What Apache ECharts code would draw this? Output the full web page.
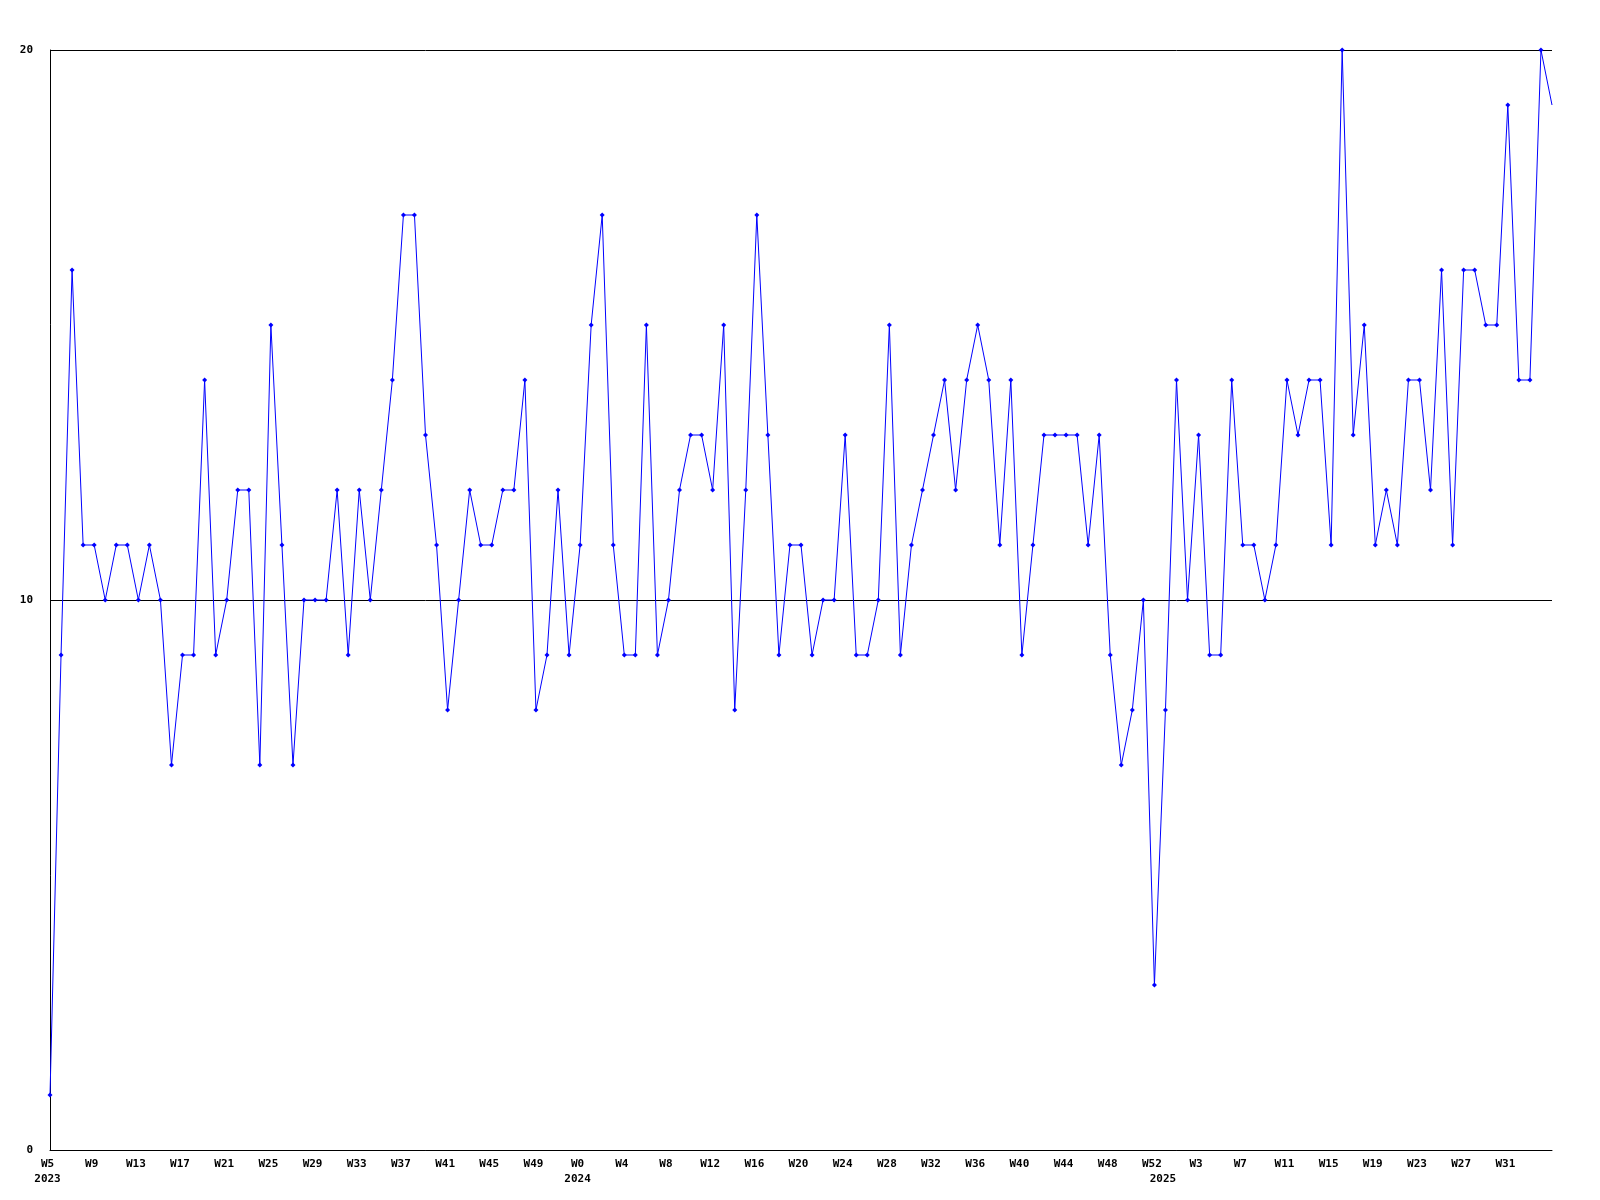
<!DOCTYPE html>
<html>
<head>
<meta charset="utf-8">
<script src="https://cdn.jsdelivr.net/npm/echarts@6/dist/echarts.min.js"></script>
<style>html,body{margin:0;padding:0;background:#fff;}#chart{width:1600px;height:1200px;}</style>
</head>
<body>
<div id="chart"></div>
<script>
// Week labels per year
const weeks2023 = []; for (let w = 5; w <= 52; w++) weeks2023.push('W' + w);
const weeks2024 = []; for (let w = 0; w <= 52; w++) weeks2024.push('W' + w);
const weeks2025 = []; for (let w = 0; w <= 35; w++) weeks2025.push('W' + w);
const categories = weeks2023.concat(weeks2024, weeks2025);
const yearStarts = { 0: '2023', 48: '2024', 101: '2025' };

const values = [
  1, 9, 16, 11, 11, 10, 11, 11, 10, 11, 10, 7, 9, 9, 14, 9, 10, 12, 12, 7,
  15, 11, 7, 10, 10, 10, 12, 9, 12, 10, 12, 14, 17, 17, 13, 11, 8, 10, 12, 11,
  11, 12, 12, 14, 8, 9, 12, 9, 11, 15, 17, 11, 9, 9, 15, 9, 10, 12, 13, 13,
  12, 15, 8, 12, 17, 13, 9, 11, 11, 9, 10, 10, 13, 9, 9, 10, 15, 9, 11, 12,
  13, 14, 12, 14, 15, 14, 11, 14, 9, 11, 13, 13, 13, 13, 11, 13, 9, 7, 8, 10,
  3, 8, 14, 10, 13, 9, 9, 14, 11, 11, 10, 11, 14, 13, 14, 14, 11, 20, 13, 15,
  11, 12, 11, 14, 14, 12, 16, 11, 16, 16, 15, 15, 19, 14, 14, 20, 19
];

const lastIdx = values.length - 1;
const seriesData = values.map((v, i) => i === lastIdx ? { value: v, symbol: 'none' } : v);
const showWeek = (i) => i % 4 === 0 && i < lastIdx;

const chart = echarts.init(document.getElementById('chart'), null, { renderer: 'canvas' });
const font = { fontFamily: 'DejaVu Sans Mono', fontWeight: 'bold', fontSize: 11, color: '#000' };
chart.setOption({
  animation: false,
  backgroundColor: '#fff',
  grid: { left: 50, right: 48, top: 50, bottom: 50, containLabel: false },
  xAxis: {
    type: 'category',
    data: categories,
    boundaryGap: false,
    axisLine: { show: true, lineStyle: { color: '#000', width: 1 } },
    axisTick: { show: false },
    splitLine: { show: false },
    axisLabel: Object.assign({}, font, {
      margin: 7,
      lineHeight: 15,
      padding: [0, 5, 0, 0],
      interval: (i) => showWeek(i) || yearStarts[i] !== undefined,
      formatter: (val, i) => {
        const wk = showWeek(i) ? val : '';
        return yearStarts[i] !== undefined ? wk + '\n' + yearStarts[i] : wk;
      }
    })
  },
  yAxis: {
    type: 'value',
    min: 0,
    max: 20,
    interval: 10,
    axisLine: { show: true, lineStyle: { color: '#000', width: 1 } },
    axisTick: { show: false },
    splitLine: { show: true, lineStyle: { color: '#000', width: 1 } },
    axisLabel: Object.assign({}, font, { margin: 17 })
  },
  series: [{
    type: 'line',
    data: seriesData,
    symbol: 'diamond',
    symbolSize: 5,
    showAllSymbol: true,
    lineStyle: { color: '#0000ff', width: 1 },
    itemStyle: { color: '#0000ff' },
    emphasis: { disabled: true }
  }]
});
</script>
</body>
</html>
